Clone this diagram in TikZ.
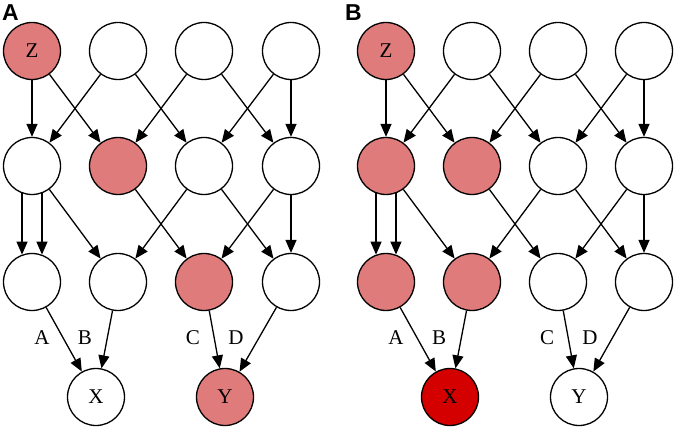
\documentclass[tikz,border=0pt]{standalone}
\usepackage{fontspec}
\setmainfont{Liberation Serif}
\newfontfamily\panelfont{Liberation Sans}
\usetikzlibrary{arrows.meta}
\definecolor{pinkred}{HTML}{E07B7B}
\definecolor{darkred}{HTML}{D40000}
\tikzset{
  vnode/.style={circle,draw=black,line width=1.3pt,minimum size=57pt,inner sep=0pt,fill=white,font=\fontsize{21}{21}\selectfont},
  hl/.style={fill=pinkred},
  hx/.style={fill=darkred},
  edge/.style={line width=1.3pt,-{Triangle[length=13pt,width=11pt]}},
  elabel/.style={font=\fontsize{21}{21}\selectfont},
  plabel/.style={font=\panelfont\bfseries\fontsize{23}{23}\selectfont,anchor=north west,inner sep=0pt}
}
\begin{document}
\begin{tikzpicture}[x=1pt,y=-1pt]
\useasboundingbox (0,0) rectangle (677,430);
% ---------- Panel A ----------
\node[plabel] (pA) at (2,4) {A};
\node[vnode,hl] (a11) at (32,51) {Z};
\node[vnode] (a12) at (118,51) {};
\node[vnode] (a13) at (204,51) {};
\node[vnode] (a14) at (291,51) {};
\node[vnode] (a21) at (32,166) {};
\node[vnode,hl] (a22) at (118,166) {};
\node[vnode] (a23) at (204,166) {};
\node[vnode] (a24) at (291,166) {};
\node[vnode] (a31) at (32,282) {};
\node[vnode] (a32) at (118,282) {};
\node[vnode,hl] (a33) at (204,282) {};
\node[vnode] (a34) at (291,282) {};
\node[vnode] (aX) at (96,397) {X};
\node[vnode,hl] (aY) at (225,397) {Y};
\draw[edge] (a11) -- (a21);
\draw[edge] (a11) -- (a22);
\draw[edge] (a12) -- (a21);
\draw[edge] (a12) -- (a23);
\draw[edge] (a13) -- (a22);
\draw[edge] (a13) -- (a24);
\draw[edge] (a14) -- (a23);
\draw[edge] (a14) -- (a24);
\draw[edge] (a21.-110) -- (a31.110);
\draw[edge] (a21.-70) -- (a31.70);
\draw[edge] (a21) -- (a32);
\draw[edge] (a22) -- (a33);
\draw[edge] (a23) -- (a32);
\draw[edge] (a23) -- (a34);
\draw[edge] (a24) -- (a33);
\draw[edge] (a24) -- (a34);
\draw[edge] (a31) -- (aX);
\draw[edge] (a32) -- (aX);
\draw[edge] (a33) -- (aY);
\draw[edge] (a34) -- (aY);
\node[elabel] (laA) at (42,338) {A};
\node[elabel] (laB) at (85,338) {B};
\node[elabel] (laC) at (193,338) {C};
\node[elabel] (laD) at (236,338) {D};
% ---------- Panel B ----------
\node[plabel] (pB) at (345,4) {B};
\node[vnode,hl] (b11) at (386,51) {Z};
\node[vnode] (b12) at (472,51) {};
\node[vnode] (b13) at (558,51) {};
\node[vnode] (b14) at (644,51) {};
\node[vnode,hl] (b21) at (386,166) {};
\node[vnode,hl] (b22) at (472,166) {};
\node[vnode] (b23) at (558,166) {};
\node[vnode] (b24) at (644,166) {};
\node[vnode,hl] (b31) at (386,282) {};
\node[vnode,hl] (b32) at (472,282) {};
\node[vnode] (b33) at (558,282) {};
\node[vnode] (b34) at (644,282) {};
\node[vnode,hx] (bX) at (450,397) {X};
\node[vnode] (bY) at (579,397) {Y};
\draw[edge] (b11) -- (b21);
\draw[edge] (b11) -- (b22);
\draw[edge] (b12) -- (b21);
\draw[edge] (b12) -- (b23);
\draw[edge] (b13) -- (b22);
\draw[edge] (b13) -- (b24);
\draw[edge] (b14) -- (b23);
\draw[edge] (b14) -- (b24);
\draw[edge] (b21.-110) -- (b31.110);
\draw[edge] (b21.-70) -- (b31.70);
\draw[edge] (b21) -- (b32);
\draw[edge] (b22) -- (b33);
\draw[edge] (b23) -- (b32);
\draw[edge] (b23) -- (b34);
\draw[edge] (b24) -- (b33);
\draw[edge] (b24) -- (b34);
\draw[edge] (b31) -- (bX);
\draw[edge] (b32) -- (bX);
\draw[edge] (b33) -- (bY);
\draw[edge] (b34) -- (bY);
\node[elabel] (lbA) at (396,338) {A};
\node[elabel] (lbB) at (439,338) {B};
\node[elabel] (lbC) at (547,338) {C};
\node[elabel] (lbD) at (590,338) {D};
\end{tikzpicture}
\end{document}
